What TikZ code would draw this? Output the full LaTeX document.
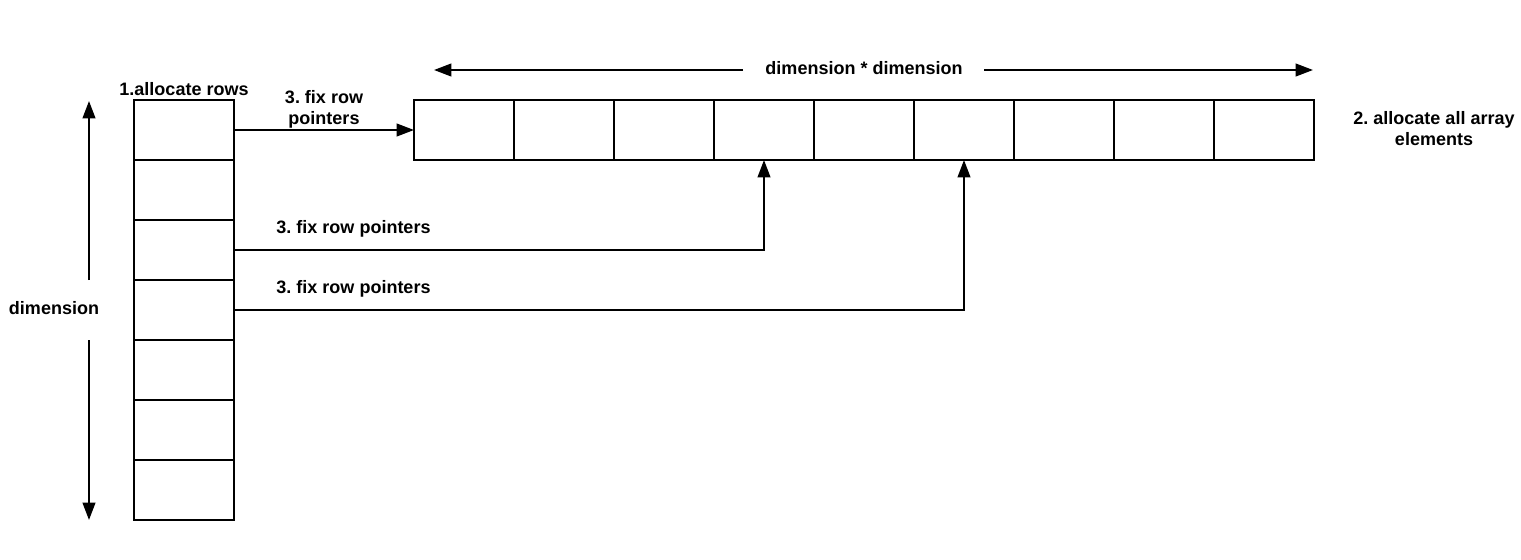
\documentclass[tikz,border=0pt]{standalone}
\usepackage{fontspec}
\setmainfont{Liberation Sans}
\usetikzlibrary{arrows.meta}
\frenchspacing
\begin{document}
\begin{tikzpicture}[x=0.75pt,y=-0.75pt,
  cell/.style={draw,line width=1.5pt,minimum width=75pt,minimum height=45pt,inner sep=0pt,outer sep=0pt},
  lbl/.style={font=\fontsize{13.5pt}{16pt}\selectfont\bfseries,inner sep=0pt,align=center},
  arr/.style={line width=1.5pt,-{Triangle[length=13pt,width=9.5pt]}},
  ln/.style={line width=1.5pt}]
\useasboundingbox (0,0) rectangle (1521,560);
% left column
\foreach \i in {1,...,7} {
  \node[cell] (r\i) at (184,{130+60*(\i-1)}) {};
}
% top row
\foreach \j in {1,...,9} {
  \node[cell] (c\j) at ({464+100*(\j-1)},130) {};
}
% labels
\node[lbl] (la) at (184,89) {1.allocate rows};
\node[lbl] (lb) at (1434,128.5) {2. allocate all array\\elements};
\node[lbl] (lc) at (324,109.5) {3. fix row\\pointers};
\node[lbl] (ld) at (353.5,228.5) {3. fix row pointers};
\node[lbl] (le) at (353.5,288.5) {3. fix row pointers};
\node[lbl] (dd) at (864,68) {dimension * dimension};
\node[lbl] (dv) at (54,308) {dimension};
% dimension arrows
\coordinate (h1) at (743,70);
\coordinate (hl) at (434,70);
\coordinate (h2) at (984,70);
\coordinate (hr) at (1313,70);
\draw[arr] (h1) -- (hl);
\draw[arr] (h2) -- (hr);
\coordinate (v1) at (89,280);
\coordinate (vt) at (89,101);
\coordinate (v2) at (89,340);
\coordinate (vb) at (89,520);
\draw[arr] (v1) -- (vt);
\draw[arr] (v2) -- (vb);
% pointers
\draw[arr] (r1.east) -- (c1.west);
\draw[arr] (r3.east) -| (c4.south);
\draw[arr] (r4.east) -| (c6.south);
\end{tikzpicture}
\end{document}
